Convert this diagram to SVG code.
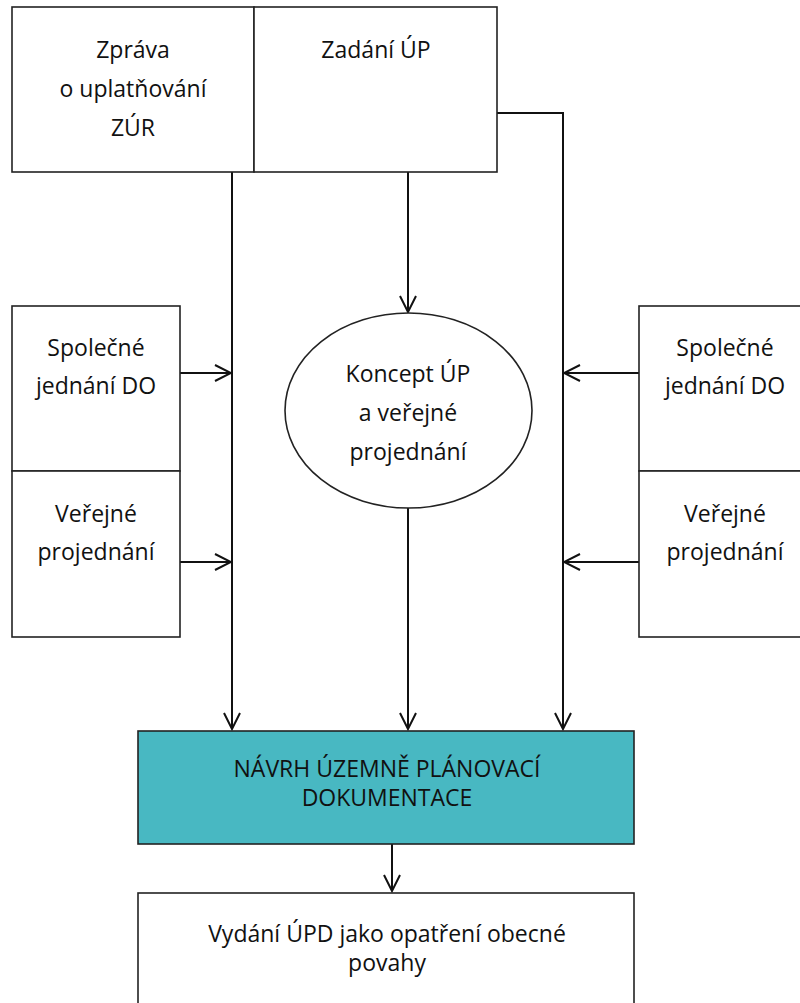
<svg xmlns="http://www.w3.org/2000/svg" width="800" height="1003" viewBox="0 0 800 1003">
<style>
.box{fill:#fff;stroke:#222;stroke-width:1.6}
.teal{fill:#48b8c2;stroke:#222;stroke-width:1.6}
.t{font-family:"Open Sans","DejaVu Sans",sans-serif;font-size:23px;fill:#111;text-anchor:middle}
.c{fill:none;stroke:#111;stroke-width:2}
</style>
<defs>
<marker id="ah" markerUnits="userSpaceOnUse" viewBox="-18 -10 20 20" refX="0" refY="0" markerWidth="20" markerHeight="20" orient="auto">
<path d="M-16,-8 L0,0 L-16,8" fill="none" stroke="#111" stroke-width="2"/>
</marker>
</defs>
<rect width="800" height="1003" fill="#fff"/>
<g id="connectors">
<line class="c" x1="232" y1="172" x2="232" y2="729" marker-end="url(#ah)"/>
<line class="c" x1="408" y1="172" x2="408" y2="312" marker-end="url(#ah)"/>
<polyline class="c" points="497,113 563,113 563,729" marker-end="url(#ah)"/>
<line class="c" x1="408" y1="508" x2="408" y2="729" marker-end="url(#ah)"/>
<line class="c" x1="180" y1="373" x2="231" y2="373" marker-end="url(#ah)"/>
<line class="c" x1="180" y1="562" x2="231" y2="562" marker-end="url(#ah)"/>
<line class="c" x1="639" y1="373" x2="564" y2="373" marker-end="url(#ah)"/>
<line class="c" x1="639" y1="562" x2="564" y2="562" marker-end="url(#ah)"/>
<line class="c" x1="392" y1="844" x2="392" y2="891" marker-end="url(#ah)"/>
</g>
<g id="zprava">
<rect class="box" x="12" y="7" width="242" height="165"/>
<text class="t" x="133" y="58">Zpráva</text>
<text class="t" x="133" y="97">o uplatňování</text>
<text class="t" x="133" y="136">ZÚR</text>
</g>
<g id="zadani">
<rect class="box" x="254" y="7" width="243" height="165"/>
<text class="t" x="376" y="58">Zadání ÚP</text>
</g>
<g id="koncept">
<ellipse class="box" cx="408.5" cy="410.5" rx="123.5" ry="97.5"/>
<text class="t" x="408" y="382">Koncept ÚP</text>
<text class="t" x="408" y="421">a veřejné</text>
<text class="t" x="408" y="460">projednání</text>
</g>
<g id="spolecne-left">
<rect class="box" x="12" y="306" width="168" height="165"/>
<text class="t" x="96" y="356">Společné</text>
<text class="t" x="96" y="394">jednání DO</text>
</g>
<g id="verejne-left">
<rect class="box" x="12" y="471" width="168" height="166"/>
<text class="t" x="96" y="522">Veřejné</text>
<text class="t" x="96" y="560">projednání</text>
</g>
<g id="spolecne-right">
<rect class="box" x="639" y="306" width="172" height="165"/>
<text class="t" x="725" y="356">Společné</text>
<text class="t" x="725" y="394">jednání DO</text>
</g>
<g id="verejne-right">
<rect class="box" x="639" y="471" width="172" height="166"/>
<text class="t" x="725" y="522">Veřejné</text>
<text class="t" x="725" y="560">projednání</text>
</g>
<g id="navrh">
<rect class="teal" x="138" y="731" width="496" height="113"/>
<text class="t" x="387" y="777">NÁVRH ÚZEMNĚ PLÁNOVACÍ</text>
<text class="t" x="387" y="806">DOKUMENTACE</text>
</g>
<g id="vydani">
<rect class="box" x="138" y="893" width="496" height="120"/>
<text class="t" x="387" y="942">Vydání ÚPD jako opatření obecné</text>
<text class="t" x="387" y="971">povahy</text>
</g>
</svg>
